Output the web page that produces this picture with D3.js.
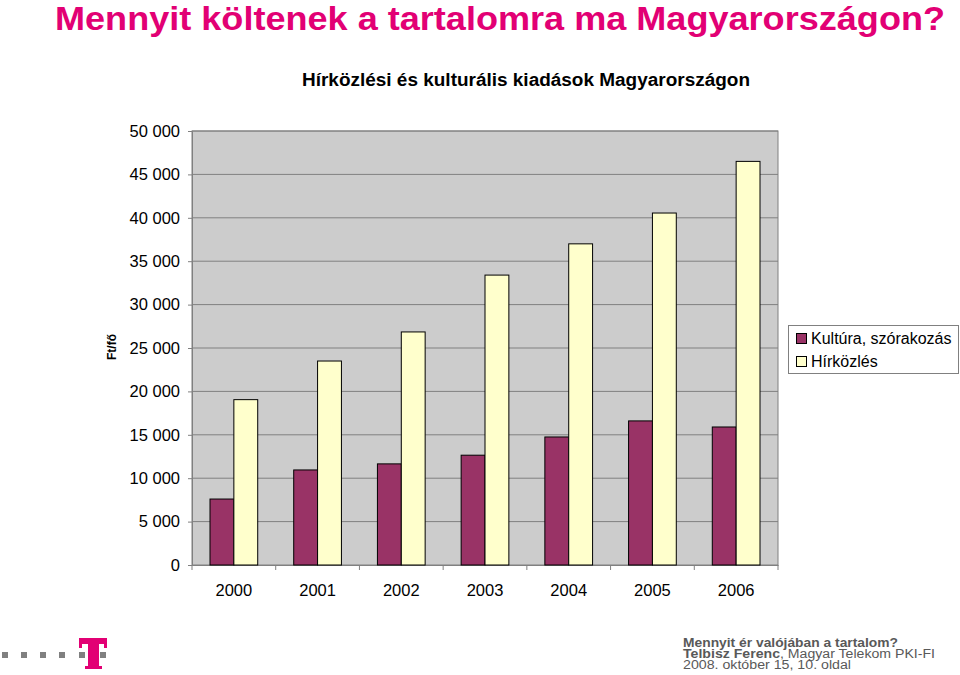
<!DOCTYPE html>
<html><head><meta charset="utf-8">
<script src="https://cdn.jsdelivr.net/npm/d3@7"></script>
<style>body{margin:0;background:#fff;}svg{display:block;font-family:Arial,"Liberation Sans",sans-serif;}</style>
</head><body><svg id="c" width="960" height="675"></svg>
<script>
const years = ["2000","2001","2002","2003","2004","2005","2006"];
const seriesNames = ["Kultúra, szórakozás","Hírközlés"];
const kultura = [7600, 10950, 11650, 12650, 14750, 16600, 15900];
const hirkozles = [19050, 23500, 26850, 33400, 37000, 40550, 46500];
const yTicks = [0,5000,10000,15000,20000,25000,30000,35000,40000,45000,50000];
const colors = ["#993366","#FFFFCC"];

const svg = d3.select("#c");
const L=192, R=778, T=131, B=565;
const x = d3.scaleBand().domain(years).range([L,R]).paddingInner(0.43).paddingOuter(0.215);
const xs = d3.scaleBand().domain(seriesNames).range([0,x.bandwidth()]);
const y = d3.scaleLinear().domain([0,50000]).range([B,T]);
const fmt = v => d3.format(",")(v).replace(/,/g," ");

// title
svg.append("text").attr("x",55).attr("y",29.5).attr("fill","#E20074").attr("font-size",33).attr("font-weight","bold")
  .attr("textLength",890).attr("lengthAdjust","spacingAndGlyphs").text("Mennyit költenek a tartalomra ma Magyarországon?");
svg.append("text").attr("x",526).attr("y",86).attr("text-anchor","middle").attr("font-size",18).attr("font-weight","bold").attr("fill","#000")
  .attr("textLength",448).attr("lengthAdjust","spacingAndGlyphs").text("Hírközlési és kulturális kiadások Magyarországon");

// plot bg
svg.append("rect").attr("x",L).attr("y",T).attr("width",R-L).attr("height",B-T).attr("fill","#CCCCCC").attr("stroke","#808080");
// grid
svg.append("g").selectAll("line").data(yTicks.slice(1)).join("line")
  .attr("x1",L).attr("x2",R).attr("y1",d=>y(d)).attr("y2",d=>y(d)).attr("stroke","#808080").attr("stroke-width",1);

// y axis
const ya = svg.append("g").attr("transform",`translate(${L},0)`).call(d3.axisLeft(y).tickValues(yTicks).tickFormat(fmt).tickSize(4).tickPadding(8));
ya.select(".domain").attr("stroke","#808080");
ya.selectAll(".tick line").attr("stroke","#808080");
ya.selectAll("text").attr("font-size",16.5).attr("fill","#000").attr("font-family","Arial,'Liberation Sans',sans-serif");

// x axis
const xa = svg.append("g").attr("transform",`translate(0,${B})`).call(d3.axisBottom(x).tickSize(0).tickPadding(19));
xa.select(".domain").attr("stroke","#808080");
xa.selectAll("text").attr("font-size",16.5).attr("fill","#000").attr("font-family","Arial,'Liberation Sans',sans-serif");
svg.append("g").selectAll("line").data(d3.range(years.length+1)).join("line")
  .attr("x1",i=>L+i*(R-L)/years.length).attr("x2",i=>L+i*(R-L)/years.length).attr("y1",B).attr("y2",B+5).attr("stroke","#808080");

// bars
const data = [kultura,hirkozles];
seriesNames.forEach((s,si)=>{
  svg.append("g").selectAll("rect").data(years).join("rect")
    .attr("x",(d)=>x(d)+xs(s)).attr("width",xs.bandwidth())
    .attr("y",(d,i)=>y(data[si][i])).attr("height",(d,i)=>B-y(data[si][i]))
    .attr("fill",colors[si]).attr("stroke","#000").attr("stroke-width",1);
});

// y label
svg.append("text").attr("transform","translate(116,347) rotate(-90)").attr("text-anchor","middle").attr("font-size",12).attr("font-weight","bold").text("Ft/fő");

// legend
const lg = svg.append("g");
lg.append("rect").attr("x",788.5).attr("y",325.5).attr("width",170).attr("height",48).attr("fill","#fff").attr("stroke","#808080");
seriesNames.forEach((s,i)=>{
  lg.append("rect").attr("x",796.5).attr("y",333.5+i*23).attr("width",10).attr("height",10).attr("fill",colors[i]).attr("stroke","#000");
  lg.append("text").attr("x",811).attr("y",344+i*23).attr("font-size",16).text(s);
});

// footer dots
const dots = [2,21,40,59,79,100];
svg.append("g").selectAll("rect").data(dots).join("rect").attr("x",d=>d).attr("y",652).attr("width",6).attr("height",6).attr("fill","#808080");
// T logo
const tl = svg.append("g").attr("fill","#E20074");
tl.append("rect").attr("x",79).attr("y",638).attr("width",28).attr("height",6);
tl.append("rect").attr("x",79).attr("y",638).attr("width",3).attr("height",10);
tl.append("rect").attr("x",104).attr("y",638).attr("width",3).attr("height",10);
tl.append("rect").attr("x",88).attr("y",638).attr("width",11).attr("height",31);
tl.append("rect").attr("x",85).attr("y",666).attr("width",17).attr("height",3);
svg.append("rect").attr("x",100).attr("y",652).attr("width",6).attr("height",6).attr("fill","#808080");

// footer text
const ft = svg.append("g").attr("font-size",12).attr("fill","#595959");
ft.append("text").attr("x",683).attr("y",647).attr("font-weight","bold").attr("textLength",215).attr("lengthAdjust","spacingAndGlyphs").text("Mennyit ér valójában a tartalom?");
const t2 = ft.append("text").attr("x",683).attr("y",658).attr("textLength",252).attr("lengthAdjust","spacingAndGlyphs");
t2.append("tspan").attr("font-weight","bold").text("Telbisz Ferenc");
t2.append("tspan").text(", Magyar Telekom PKI-FI");
ft.append("text").attr("x",683).attr("y",669).attr("textLength",168).attr("lengthAdjust","spacingAndGlyphs").text("2008. október 15,  10. oldal");
</script></body></html>
